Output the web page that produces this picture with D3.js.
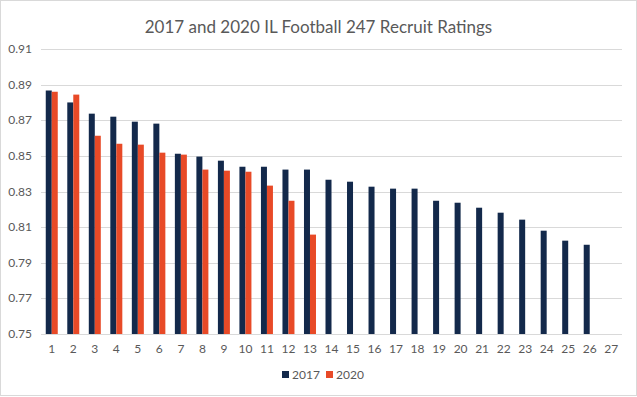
<!DOCTYPE html>
<html>
<head>
<meta charset="utf-8">
<script src="https://cdn.jsdelivr.net/npm/d3@7"></script>
<style>
  body { margin: 0; background: #fff; }
  svg text { font-family: Lato, "Open Sans", sans-serif; fill: #595959; }
</style>
</head>
<body>
<div id="chart"></div>
<script>
// recruit ratings
const categories = d3.range(1, 28).map(String);
const ratings2017 = [0.8867, 0.8800, 0.8737, 0.8720, 0.8692, 0.8681, 0.8512, 0.8496, 0.8473, 0.8439,
                     0.8439, 0.8423, 0.8423, 0.8366, 0.8355, 0.8327, 0.8316, 0.8316, 0.8248, 0.8237,
                     0.8209, 0.8181, 0.8142, 0.8080, 0.8024, 0.8001];
const ratings2020 = [0.8860, 0.8844, 0.8613, 0.8568, 0.8563, 0.8518, 0.8507, 0.8423, 0.8417, 0.8411,
                     0.8333, 0.8248, 0.8058];
const seriesNames = ["2017", "2020"];
const yTicks = [0.75, 0.77, 0.79, 0.81, 0.83, 0.85, 0.87, 0.89, 0.91];

const width = 637, height = 397;
const margin = {top: 49, right: 15, bottom: 63, left: 41};
const colors = d3.scaleOrdinal().domain(seriesNames).range(["#13294B", "#E84A27"]);

const svg = d3.select("#chart").append("svg")
    .attr("width", width)
    .attr("height", height);

// outer chart border
svg.append("rect")
    .attr("x", 0.5).attr("y", 0.5)
    .attr("width", width - 1).attr("height", height - 2)
    .attr("fill", "#fff")
    .attr("stroke", "#d9d9d9");

svg.append("text")
    .attr("x", width / 2)
    .attr("y", 33)
    .attr("text-anchor", "middle")
    .style("font-size", "17px")
    .text("2017 and 2020 IL Football 247 Recruit Ratings");

const x = d3.scaleBand()
    .domain(categories)
    .range([margin.left, width - margin.right]);

const y = d3.scaleLinear()
    .domain([0.75, 0.91])
    .range([height - margin.bottom, margin.top]);

const xSub = d3.scaleBand()
    .domain(seriesNames)
    .range([0, 12]);
const groupOffset = (x.bandwidth() - 12) / 2;

// gridlines
svg.append("g")
    .selectAll("line")
    .data(yTicks)
    .join("line")
    .attr("x1", margin.left)
    .attr("x2", width - margin.right)
    .attr("y1", d => Math.round(y(d)) + 0.5)
    .attr("y2", d => Math.round(y(d)) + 0.5)
    .attr("stroke", "#d9d9d9");

// y labels
svg.append("g")
    .selectAll("text")
    .data(yTicks)
    .join("text")
    .attr("x", 32)
    .attr("y", d => y(d) + 4)
    .attr("text-anchor", "end")
    .style("font-size", "12px")
    .text(d => d3.format(".2f")(d));

// x labels
svg.append("g")
    .selectAll("text")
    .data(categories)
    .join("text")
    .attr("x", d => x(d) + x.bandwidth() / 2)
    .attr("y", 353)
    .attr("text-anchor", "middle")
    .style("font-size", "12px")
    .text(d => d);

const series = [
    {name: "2017", values: ratings2017},
    {name: "2020", values: ratings2020}
];

series.forEach(s => {
    svg.append("g")
        .attr("fill", colors(s.name))
        .selectAll("rect")
        .data(s.values)
        .join("rect")
        .attr("x", (d, i) => x(categories[i]) + groupOffset + xSub(s.name))
        .attr("width", xSub.bandwidth())
        .attr("y", d => y(d))
        .attr("height", d => y(0.75) - y(d));
});

// legend
const legend = svg.append("g")
    .selectAll("g")
    .data(seriesNames)
    .join("g")
    .attr("transform", (d, i) => "translate(" + (282 + i * 44) + ",371)");

legend.append("rect")
    .attr("width", 7)
    .attr("height", 7)
    .attr("fill", d => colors(d));

legend.append("text")
    .attr("x", 10)
    .attr("y", 8)
    .style("font-size", "12px")
    .text(d => d);
</script>
</body>
</html>
